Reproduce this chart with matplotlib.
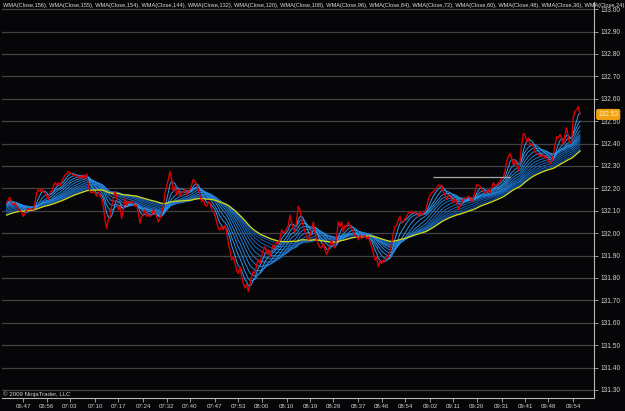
import matplotlib
matplotlib.use("Agg")
import matplotlib.pyplot as plt
import numpy as np
from matplotlib.colors import to_rgb
import matplotlib.transforms as mtransforms

plt.rcParams['font.family'] = ['Liberation Sans Narrow', 'Liberation Sans', 'DejaVu Sans']

# closes before the visible window, estimated from where the averages start
prior_close = [
    131.87, 131.88, 131.88, 131.89, 131.88, 131.90, 131.89, 131.90, 131.91, 131.90,
    131.92, 131.91, 131.93, 131.92, 131.94, 131.93, 131.95, 131.94, 131.95, 131.96,
    131.95, 131.97, 131.96, 131.98, 131.97, 131.98, 131.99, 131.98, 132.00, 131.99,
    132.00, 132.01, 132.00, 132.02, 132.01, 132.02, 132.03, 132.02, 132.04, 132.03,
    132.04, 132.05, 132.04, 132.06, 132.05, 132.06, 132.07, 132.06, 132.08, 132.07,
    132.08, 132.09, 132.08, 132.09, 132.10, 132.09, 132.10, 132.11, 132.10, 132.11,
    132.12, 132.11, 132.12, 132.11, 132.12, 132.13, 132.12, 132.13, 132.12, 132.13,
    132.14, 132.13, 132.12, 132.13, 132.14, 132.13, 132.14, 132.13, 132.14, 132.13,
]

# visible closes, one point per ~2 chart bars
close = [
    132.135, 132.15, 132.16, 132.135, 132.125, 132.135, 132.12, 132.105, 132.10, 132.09,
    132.075, 132.09, 132.10, 132.11, 132.105, 132.11, 132.105, 132.135, 132.18, 132.195,
    132.185, 132.20, 132.185, 132.18, 132.165, 132.15, 132.185, 132.185, 132.21, 132.225,
    132.215, 132.225, 132.21, 132.23, 132.245, 132.26, 132.265, 132.275, 132.27, 132.265,
    132.26, 132.255, 132.26, 132.245, 132.255, 132.245, 132.26, 132.245, 132.265, 132.21,
    132.185, 132.18, 132.185, 132.18, 132.165, 132.185, 132.17, 132.155, 132.12, 132.06,
    132.02, 132.06, 132.075, 132.12, 132.155, 132.185, 132.165, 132.105, 132.12, 132.065,
    132.105, 132.155, 132.125, 132.14, 132.135, 132.14, 132.135, 132.12, 132.125, 132.09,
    132.045, 132.075, 132.08, 132.105, 132.075, 132.08, 132.075, 132.08, 132.105, 132.09,
    132.075, 132.05, 132.065, 132.09, 132.12, 132.18, 132.21, 132.24, 132.275, 132.24,
    132.185, 132.21, 132.17, 132.195, 132.165, 132.185, 132.18, 132.195, 132.17, 132.185,
    132.195, 132.215, 132.24, 132.23, 132.215, 132.195, 132.165, 132.14, 132.15, 132.125,
    132.12, 132.14, 132.135, 132.105, 132.095, 132.08, 132.05, 132.02, 132.015, 132.03,
    132.015, 132.035, 132.005, 131.955, 131.925, 131.88, 131.895, 131.865, 131.835, 131.82,
    131.85, 131.805, 131.775, 131.755, 131.77, 131.74, 131.77, 131.805, 131.83, 131.82,
    131.86, 131.88, 131.865, 131.895, 131.925, 131.94, 131.91, 131.925, 131.895, 131.925,
    131.95, 131.935, 131.96, 131.955, 131.975, 132.015, 132.00, 132.005, 132.02, 132.035,
    132.08, 132.045, 132.02, 132.005, 132.06, 132.12, 132.105, 132.06, 132.03, 132.005,
    131.99, 131.97, 131.985, 132.02, 132.05, 132.005, 131.97, 131.95, 131.935, 131.935,
    131.955, 131.925, 131.905, 131.925, 131.95, 131.97, 131.94, 131.935, 131.985, 132.05,
    132.03, 132.05, 132.005, 132.035, 132.03, 132.05, 132.035, 132.02, 132.005, 131.99,
    131.985, 131.97, 131.99, 131.975, 131.985, 131.99, 131.975, 131.985, 131.96, 131.94,
    131.91, 131.88, 131.89, 131.85, 131.875, 131.865, 131.88, 131.875, 131.89, 131.895,
    131.925, 131.955, 132.00, 132.03, 132.035, 132.06, 132.075, 132.045, 132.05, 132.065,
    132.075, 132.09, 132.095, 132.09, 132.095, 132.09, 132.09, 132.075, 132.095, 132.08,
    132.09, 132.095, 132.12, 132.15, 132.17, 132.18, 132.185, 132.195, 132.20, 132.215,
    132.21, 132.215, 132.185, 132.17, 132.15, 132.17, 132.165, 132.15, 132.135, 132.155,
    132.14, 132.105, 132.12, 132.135, 132.155, 132.155, 132.155, 132.165, 132.16, 132.14,
    132.155, 132.185, 132.215, 132.215, 132.21, 132.195, 132.185, 132.18, 132.185, 132.195,
    132.18, 132.20, 132.225, 132.21, 132.215, 132.225, 132.23, 132.245, 132.25, 132.275,
    132.32, 132.34, 132.355, 132.335, 132.305, 132.325, 132.31, 132.28, 132.32, 132.395,
    132.445, 132.44, 132.41, 132.425, 132.395, 132.40, 132.385, 132.365, 132.355, 132.35,
    132.35, 132.34, 132.35, 132.335, 132.34, 132.325, 132.31, 132.32, 132.35, 132.395,
    132.43, 132.425, 132.44, 132.425, 132.395, 132.44, 132.47, 132.425, 132.40, 132.415,
    132.515, 132.545, 132.55, 132.565, 132.53,
]

periods = [156, 155, 154, 144, 132, 120, 108, 96, 84, 72, 60, 48, 36, 24, 12]
bars_per_point = 2

tick_bars = [10, 24, 38, 53, 67, 82, 96, 110, 125, 139, 153, 168,
             182, 196, 211, 225, 239, 254, 268, 282, 297, 311, 325, 340]
tick_times = ["06:47", "06:56", "07:03", "07:10", "07:17", "07:24", "07:32", "07:40",
              "07:47", "07:53", "08:00", "08:10", "08:19", "08:29", "08:37", "08:46",
              "08:54", "09:02", "09:11", "09:20", "09:31", "09:41", "09:48", "09:54"]

price_levels = [131.30, 131.40, 131.50, 131.60, 131.70, 131.80, 131.90, 132.00, 132.10,
                132.20, 132.30, 132.40, 132.50, 132.60, 132.70, 132.80, 132.90, 133.00]

drawn_level = 132.25
drawn_from, drawn_to = 256, 302
last_price = 132.53


def wma(values, n):
    out = []
    for k in range(len(values)):
        w = np.array(values[max(0, k - n + 1):k + 1])
        weights = np.arange(1, len(w) + 1)
        out.append(np.dot(w, weights) / weights.sum())
    return np.array(out)


bg = '#060609'
txt = '#d0d0d0'
full = prior_close + close
npr = len(prior_close)
x = np.arange(len(close))

fig = plt.figure(figsize=(6.25, 4.11), dpi=100, facecolor=bg)
ax = fig.add_axes([2 / 625, 13 / 411, 592 / 625, 396 / 411])
ax.set_facecolor(bg)

for lv in price_levels:
    ax.axhline(lv, color='#434343', lw=0.9, zorder=0)

slow_c = np.array(to_rgb('#0b4592'))
fast_c = np.array(to_rgb('#2f9cf2'))
blue_periods = periods[1:]
for j, n in enumerate(blue_periods):
    t = j / (len(blue_periods) - 1)
    col = slow_c * (1 - t) + fast_c * t
    line = wma(full, max(1, round(n / bars_per_point)))[npr:]
    ax.plot(x, line, color=col, lw=0.7, zorder=2)

yellow = wma(full, round(periods[0] / bars_per_point))[npr:]
ax.plot(x, yellow, color='#d8d800', lw=0.9, zorder=3)

ax.plot(x, close, color='#dd0000', lw=1.0, zorder=4)
ax.hlines(drawn_level, drawn_from, drawn_to, color='#a8a8a8', lw=0.9, zorder=5)

ax.set_xlim(-2.8, 352.4)
ax.set_ylim(131.264, 133.032)

ax.yaxis.tick_right()
ax.set_yticks(price_levels)
ax.set_yticklabels(["%.2f" % v for v in price_levels])
ax.set_xticks(tick_bars)
ax.set_xticklabels(tick_times)
ax.tick_params(axis='y', colors='#b0b0b0', labelcolor=txt, labelsize=4.8, length=3, width=0.6, pad=2)
ax.tick_params(axis='x', colors='#b0b0b0', labelcolor=txt, labelsize=4.4, length=3, width=0.6, pad=1.5)

for side in ['top', 'left']:
    ax.spines[side].set_visible(False)
for side in ['right', 'bottom']:
    ax.spines[side].set_color('#b8b8b8')
    ax.spines[side].set_linewidth(0.8)

trans = mtransforms.blended_transform_factory(ax.transAxes, ax.transData)
ax.text(1.007, last_price, "%.2f" % last_price, transform=trans, fontsize=4.8,
        color='#fff4c0', va='center', ha='left', zorder=6, clip_on=False,
        bbox=dict(boxstyle='round,pad=0.2', fc='#f0a010', ec='#f0a010'))

title = ", ".join("WMA(Close,%d)" % n for n in periods)
fig.text(3 / 625, 1 - 5 / 411, title, fontsize=4.1, color='#e0e0e0', va='center', ha='left')
fig.text(3 / 625, 1 - 394 / 411, "\u00a9 2009 NinjaTrader, LLC", fontsize=4.4, color=txt,
         va='center', ha='left')

fig.savefig("out.png", dpi=100, facecolor=bg)
